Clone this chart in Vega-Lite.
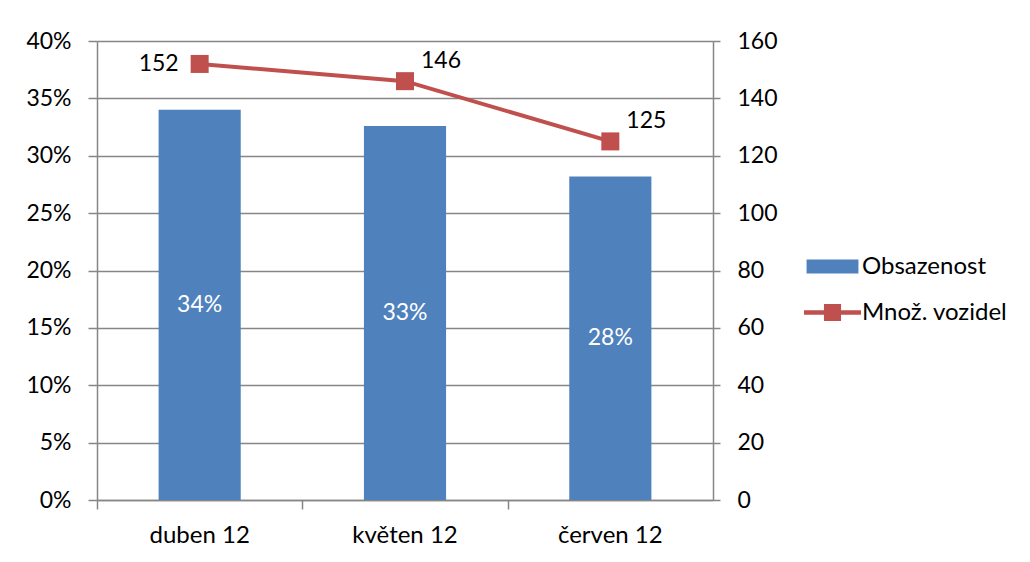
{
  "$schema": "https://vega.github.io/schema/vega-lite/v6.json",
  "width": 616,
  "height": 459,
  "autosize": {"type": "none"},
  "padding": {"left": 97, "top": 41, "right": 317, "bottom": 62},
  "background": "white",
  "config": {
    "view": {"stroke": null},
    "font": "Lato",
    "axis": {"labelFont": "Lato", "labelFontSize": 23, "labelColor": "black", "domainColor": "#868686", "tickColor": "#868686", "gridColor": "#868686", "domainWidth": 1.5, "tickWidth": 1.5, "gridWidth": 1.5}
  },
  "datasets": {
    "main": [
      {"month": "duben 12", "obs": 0.34, "cnt": 152},
      {"month": "květen 12", "obs": 0.326, "cnt": 146},
      {"month": "červen 12", "obs": 0.282, "cnt": 125}
    ],
    "leg": [
      {"series": "Obsazenost"},
      {"series": "Množ. vozidel"}
    ]
  },
  "layer": [
    {
      "data": {"name": "main"},
      "transform": [{"calculate": "datum.obs / 2", "as": "mid"}],
      "encoding": {
        "x": {
          "field": "month", "type": "nominal", "sort": null,
          "scale": {"paddingInner": 0.6, "paddingOuter": 0.3},
          "axis": {"title": null, "orient": "bottom", "labelAngle": 0, "ticks": false, "labelPadding": 23, "labelFontSize": 24}
        }
      },
      "layer": [
        {
          "mark": {"type": "bar", "color": "#4F81BD"},
          "encoding": {
            "y": {"field": "obs", "type": "quantitative", "scale": {"domain": [0, 0.4], "nice": false},
              "axis": {"title": null, "orient": "left", "values": [0, 0.05, 0.1, 0.15, 0.2, 0.25, 0.3, 0.35, 0.4], "format": ".0%", "grid": true, "tickSize": 9, "labelPadding": 17}}
          }
        },
        {
          "mark": {"type": "text", "color": "white", "fontSize": 23, "font": "Lato", "baseline": "middle"},
          "encoding": {
            "y": {"field": "mid", "type": "quantitative"},
            "text": {"field": "obs", "type": "quantitative", "format": ".0%"}
          }
        }
      ]
    },
    {
      "data": {"name": "main"},
      "encoding": {
        "x": {
          "field": "month", "type": "nominal", "sort": null,
          "axis": {"title": null, "orient": "bottom", "labels": false, "domain": false, "ticks": true, "tickSize": 9, "tickColor": "#868686", "tickWidth": 1.5, "bandPosition": 0, "tickOffset": -61.6, "tickExtra": false}
        }
      },
      "layer": [
        {
          "mark": {"type": "line", "color": "#C0504D", "strokeWidth": 4},
          "encoding": {
            "y": {"field": "cnt", "type": "quantitative", "scale": {"domain": [0, 160], "nice": false},
              "axis": {"title": null, "orient": "right", "values": [0, 20, 40, 60, 80, 100, 120, 140, 160], "grid": false, "tickSize": 7, "labelPadding": 17}}
          }
        },
        {
          "mark": {"type": "point", "shape": "square", "size": 324, "filled": true, "color": "#C0504D", "opacity": 1},
          "encoding": {"y": {"field": "cnt", "type": "quantitative"}}
        },
        {
          "transform": [{"filter": "datum.month === 'duben 12'"}],
          "mark": {"type": "text", "fontSize": 23, "font": "Lato", "align": "right", "baseline": "middle", "dx": -21, "color": "black"},
          "encoding": {"y": {"field": "cnt", "type": "quantitative"}, "text": {"field": "cnt", "type": "quantitative"}}
        },
        {
          "transform": [{"filter": "datum.month !== 'duben 12'"}],
          "mark": {"type": "text", "fontSize": 23, "font": "Lato", "align": "left", "baseline": "middle", "dx": 16, "dy": -20, "color": "black"},
          "encoding": {"y": {"field": "cnt", "type": "quantitative"}, "text": {"field": "cnt", "type": "quantitative"}}
        }
      ]
    },
    {
      "data": {"name": "leg"},
      "mark": {"type": "point", "filled": true, "opacity": 1},
      "encoding": {
        "y": {"field": "none", "type": "quantitative", "axis": null},
        "color": {"field": "series", "type": "nominal",
          "scale": {"domain": ["Obsazenost", "Množ. vozidel"], "range": ["#4F81BD", "#C0504D"]},
          "legend": {"title": null, "orient": "none", "legendX": 721, "legendY": 211, "labelFont": "Lato", "labelFontSize": 24, "labelColor": "black", "symbolSize": 812, "symbolStrokeWidth": 0, "symbolOpacity": 1, "rowPadding": 19, "labelOffset": 15, "padding": 0}},
        "shape": {"field": "series", "type": "nominal",
          "scale": {"domain": ["Obsazenost", "Množ. vozidel"], "range": ["M-1.82,-0.49H1.82V0.49H-1.82Z", "M-2,-0.15H-0.6V-0.6H0.6V-0.15H2V0.15H0.6V0.6H-0.6V0.15H-2Z"]},
          "legend": {"title": null, "orient": "none", "legendX": 721, "legendY": 211}}
      }
    }
  ],
  "resolve": {"scale": {"y": "independent"}, "axis": {"x": "independent"}}
}
